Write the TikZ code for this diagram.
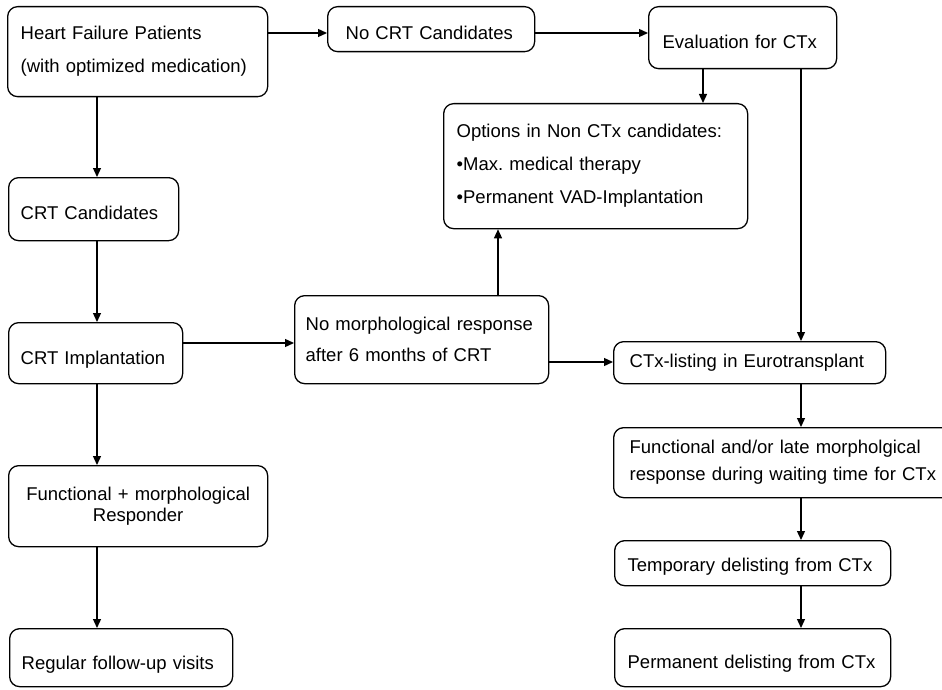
\documentclass[tikz,border=0pt]{standalone}
\usepackage{fontspec}
\setmainfont{Liberation Sans}
\usetikzlibrary{arrows.meta}
\frenchspacing

\begin{document}
\begin{tikzpicture}[x=1pt,y=-1pt,
    box/.style={draw, line width=1.3pt, rounded corners=10pt, anchor=north west,
        align=left, inner ysep=0pt, font=\fontsize{18.5pt}{22pt}\selectfont},
    oneline/.style={text depth=0pt, text height=#1},
    arr/.style={line width=1.3pt, -{Triangle[length=9pt,width=8pt]}}]

    % --- Frame (page is 942 x 690) ---
    \useasboundingbox (0,0) rectangle (942,690);

    % --- Left column ---
    \node[box, inner xsep=13pt, text width=234pt, minimum height=90pt] (hf) at (7,6)
        {Heart Failure Patients\\[11pt](with optimized medication)};
    \node[box, oneline=21pt, inner xsep=12pt, text width=146pt, minimum height=63pt] (cand) at (8,177)
        {CRT Candidates};
    \node[box, oneline=22pt, inner xsep=12pt, text width=150pt, minimum height=61pt] (impl) at (8,322)
        {CRT Implantation};
    \node[box, inner xsep=14pt, text width=231pt, minimum height=81pt, align=center] (resp) at (8,465)
        {Functional + morphological\\[-1pt]Responder};
    \node[box, oneline=24pt, inner xsep=12pt, text width=199pt, minimum height=58pt] (visits) at (9,628)
        {Regular follow-up visits};

    % --- Middle ---
    \node[box, oneline=21pt, inner xsep=18pt, text width=171pt, minimum height=45pt] (nocrt) at (327,6)
        {No CRT Candidates};
    \node[box, inner xsep=13pt, text width=278pt, minimum height=125pt] (opt) at (443,103)
        {Options in Non CTx candidates:\\[11pt]•Max. medical therapy\\[11pt]•Permanent VAD-Implantation};
    \node[box, inner xsep=11pt, text width=232pt, minimum height=88pt] (nomorph) at (294,295)
        {No morphological response\\[9pt]after 6 months of CRT};

    % --- Right column ---
    \node[box, oneline=22pt, inner xsep=14pt, text width=160pt, minimum height=62pt] (eval) at (648,6)
        {Evaluation for CTx};
    \node[box, inner xsep=16pt, text width=240pt, minimum height=42pt] (listing) at (613,341)
        {CTx-listing in Eurotransplant};
    \node[box, inner xsep=16pt, text width=310pt, minimum height=70pt] (late) at (613,427)
        {Functional and/or late morpholgical\\[5pt]response during waiting time for CTx};
    \node[box, oneline=16pt, inner xsep=13pt, text width=250pt, minimum height=45pt] (tempdel) at (614,540)
        {Temporary delisting from CTx};
    \node[box, oneline=22pt, inner xsep=13pt, text width=250pt, minimum height=58pt] (permdel) at (614,628)
        {Permanent delisting from CTx};

    % --- Rows and columns the arrows run along ---
    \coordinate (rowA) at (0,33);
    \coordinate (rowB) at (0,343);
    \coordinate (rowC) at (0,362);
    \coordinate (colA) at (97,0);
    \coordinate (colB) at (498,0);
    \coordinate (colC) at (703,0);
    \coordinate (colD) at (801,0);

    % --- Arrows ---
    \draw[arr] (hf.east |- rowA) -- (nocrt.west |- rowA);
    \draw[arr] (nocrt.east |- rowA) -- (eval.west |- rowA);
    \draw[arr] (eval.south -| colC) -- (opt.north -| colC);
    \draw[arr] (eval.south -| colD) -- (listing.north -| colD);

    \draw[arr] (hf.south -| colA) -- (cand.north -| colA);
    \draw[arr] (cand.south -| colA) -- (impl.north -| colA);
    \draw[arr] (impl.south -| colA) -- (resp.north -| colA);
    \draw[arr] (resp.south -| colA) -- (visits.north -| colA);

    \draw[arr] (impl.east |- rowB) -- (nomorph.west |- rowB);
    \draw[arr] (nomorph.north -| colB) -- (opt.south -| colB);
    \draw[arr] (nomorph.east |- rowC) -- (listing.west |- rowC);

    \draw[arr] (listing.south -| colD) -- (late.north -| colD);
    \draw[arr] (late.south -| colD) -- (tempdel.north -| colD);
    \draw[arr] (tempdel.south -| colD) -- (permdel.north -| colD);

\end{tikzpicture}
\end{document}
